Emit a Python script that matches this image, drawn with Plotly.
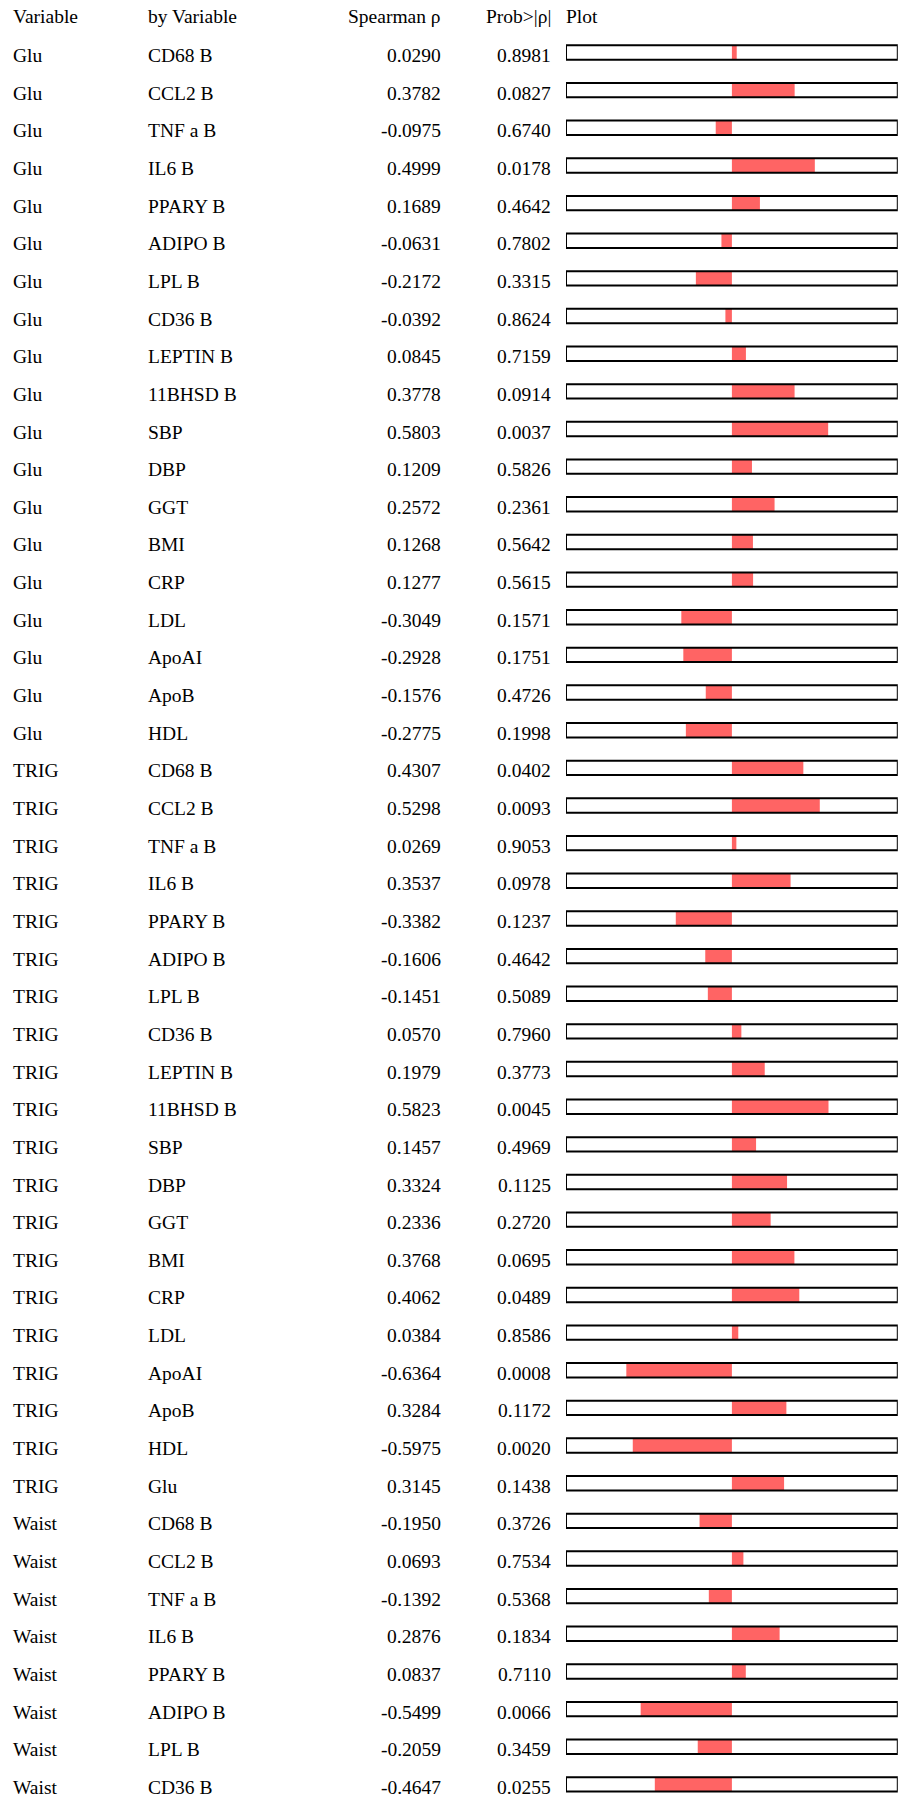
import plotly.graph_objects as go

variables = ["Glu"] * 19 + ["TRIG"] * 20 + ["Waist"] * 8
by_variables = [
    "CD68 B", "CCL2 B", "TNF a B", "IL6 B", "PPARY B", "ADIPO B", "LPL B", "CD36 B",
    "LEPTIN B", "11BHSD B", "SBP", "DBP", "GGT", "BMI", "CRP", "LDL", "ApoAI", "ApoB", "HDL",
    "CD68 B", "CCL2 B", "TNF a B", "IL6 B", "PPARY B", "ADIPO B", "LPL B", "CD36 B",
    "LEPTIN B", "11BHSD B", "SBP", "DBP", "GGT", "BMI", "CRP", "LDL", "ApoAI", "ApoB", "HDL", "Glu",
    "CD68 B", "CCL2 B", "TNF a B", "IL6 B", "PPARY B", "ADIPO B", "LPL B", "CD36 B",
]
spearman_rho = [
    0.0290, 0.3782, -0.0975, 0.4999, 0.1689, -0.0631, -0.2172, -0.0392,
    0.0845, 0.3778, 0.5803, 0.1209, 0.2572, 0.1268, 0.1277, -0.3049, -0.2928, -0.1576, -0.2775,
    0.4307, 0.5298, 0.0269, 0.3537, -0.3382, -0.1606, -0.1451, 0.0570,
    0.1979, 0.5823, 0.1457, 0.3324, 0.2336, 0.3768, 0.4062, 0.0384, -0.6364, 0.3284, -0.5975, 0.3145,
    -0.1950, 0.0693, -0.1392, 0.2876, 0.0837, -0.5499, -0.2059, -0.4647,
]
prob = [
    0.8981, 0.0827, 0.6740, 0.0178, 0.4642, 0.7802, 0.3315, 0.8624,
    0.7159, 0.0914, 0.0037, 0.5826, 0.2361, 0.5642, 0.5615, 0.1571, 0.1751, 0.4726, 0.1998,
    0.0402, 0.0093, 0.9053, 0.0978, 0.1237, 0.4642, 0.5089, 0.7960,
    0.3773, 0.0045, 0.4969, 0.1125, 0.2720, 0.0695, 0.0489, 0.8586, 0.0008, 0.1172, 0.0020, 0.1438,
    0.3726, 0.7534, 0.5368, 0.1834, 0.7110, 0.0066, 0.3459, 0.0255,
]
headers = ["Variable", "by Variable", "Spearman ρ", "Prob>|ρ|", "Plot"]

X_RANGE = [-1, 1]
W, H = 899, 1797
n = len(spearman_rho)
rows = list(range(n))

# layout constants (pixels)
col_x = [11, 146, 443, 553, 564]
col_anchor = ["left", "left", "right", "right", "left"]
pitch = 37.65
first_center = 52.5
y_top = -first_center / pitch
y_bot = (H - first_center) / pitch
bar_w = 0.382
FONT = dict(family="Liberation Serif, Times New Roman, serif", size=19.5, color="black")

fig = go.Figure()
fig.add_trace(go.Bar(
    x=spearman_rho, y=rows, orientation="h", width=bar_w,
    marker=dict(color="#FF6464", line=dict(width=0)),
    hoverinfo="skip", showlegend=False,
))
fig.add_trace(go.Bar(
    x=[X_RANGE[1] - X_RANGE[0]] * n, y=rows, base=[X_RANGE[0]] * n, orientation="h", width=bar_w,
    marker=dict(color="rgba(0,0,0,0)", line=dict(color="black", width=2)),
    hoverinfo="skip", showlegend=False,
))

annotations = []
for j, h in enumerate(headers):
    annotations.append(dict(
        x=col_x[j] / W, xref="paper", y=-1, yref="y", text=h, showarrow=False,
        xanchor=col_anchor[j], yanchor="middle", yshift=-2, font=FONT,
    ))
for i in rows:
    vals = [variables[i], by_variables[i], f"{spearman_rho[i]:.4f}", f"{prob[i]:.4f}"]
    for j, v in enumerate(vals):
        annotations.append(dict(
            x=col_x[j] / W, xref="paper", y=i, yref="y", text=v, showarrow=False,
            xanchor=col_anchor[j], yanchor="middle", yshift=-3, font=FONT,
        ))

fig.update_layout(
    width=W, height=H,
    margin=dict(l=0, r=0, t=0, b=0),
    paper_bgcolor="white", plot_bgcolor="white",
    barmode="overlay",
    xaxis=dict(domain=[566 / W, 897.8 / W], range=X_RANGE, showgrid=False,
               zeroline=False, showticklabels=False, showline=False, fixedrange=True),
    yaxis=dict(range=[y_bot, y_top], showgrid=False, zeroline=False,
               showticklabels=False, showline=False, fixedrange=True),
    annotations=annotations,
    showlegend=False,
)

fig.write_html(
    "out.html",
    config={"displayModeBar": False, "staticPlot": True},
    post_script="document.body.style.margin='0';document.body.style.overflow='hidden';",
)
